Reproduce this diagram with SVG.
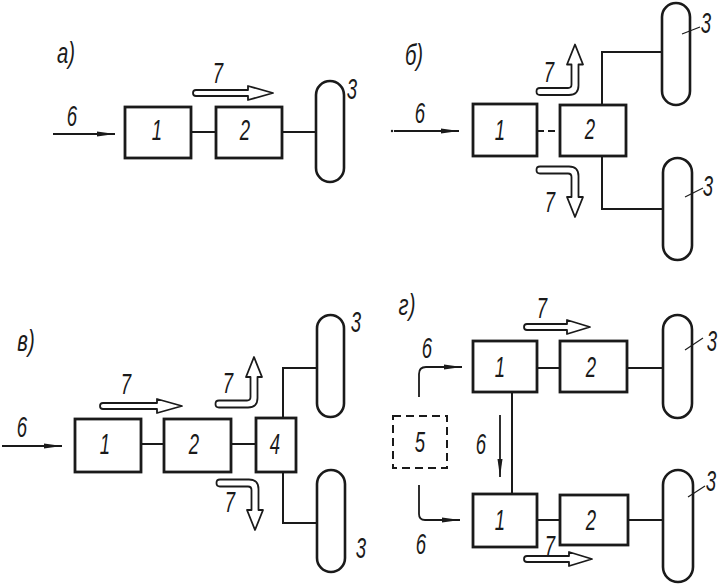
<svg xmlns="http://www.w3.org/2000/svg" width="721" height="584" viewBox="0 0 721 584">
<style>
.bx{fill:none;stroke:#1a1a1a;stroke-width:2.8}
.wh{fill:none;stroke:#1a1a1a;stroke-width:2.6}
.ln{fill:none;stroke:#1a1a1a;stroke-width:2}
.dash{fill:none;stroke:#1a1a1a;stroke-width:2;stroke-dasharray:7,4}
.dbox{fill:none;stroke:#1a1a1a;stroke-width:2;stroke-dasharray:8,5}
.ha{fill:#fff;stroke:#1a1a1a;stroke-width:1.8;stroke-linejoin:round}
.ld{fill:none;stroke:#1a1a1a;stroke-width:1.2}
.ar{fill:none;stroke:#1a1a1a;stroke-width:1.8;marker-end:url(#ah)}
text{font-family:"Liberation Sans",Arial,sans-serif;font-style:italic;font-size:29px;fill:#1a1a1a;text-anchor:middle}
</style>
<defs>
<marker id="ah" markerUnits="userSpaceOnUse" markerWidth="20" markerHeight="8" refX="18" refY="3" orient="auto">
<path d="M0,0.5 L18,3 L0,5.5 Z" fill="#1a1a1a"/>
</marker>
<path id="bent" class="ha" d="M2,-3.5 L30,-3.5 Q33.5,-3.5 33.5,-7 L33.5,-27 L29,-27 L37,-47 L45,-27 L40.5,-27 L40.5,-6 Q40.5,3.5 31,3.5 L2,3.5 Q-1.5,3.5 -1.5,0 Q-1.5,-3.5 2,-3.5 Z"/>
</defs>
<rect width="721" height="584" fill="#fff"/>

<g id="connectors">
<!-- panel a -->
<line class="ar" x1="53" y1="134" x2="115" y2="134"/>
<line class="ln" x1="191" y1="132" x2="216" y2="132"/>
<line class="ln" x1="282" y1="132" x2="316" y2="132"/>
<path class="ha" d="M196,90 L248,90 L248,86 L273,93 L248,100 L248,96 L196,96 Q193,96 193,93 Q193,90 196,90 Z"/>
<!-- panel b -->
<circle cx="392" cy="131" r="1.2" fill="#1a1a1a"/>
<line class="ar" x1="394" y1="131" x2="459" y2="131"/>
<line class="dash" x1="537" y1="131" x2="560" y2="131"/>
<polyline class="ln" points="602,105 602,52 662,52"/>
<polyline class="ln" points="602,156 602,209 663,209"/>
<use href="#bent" transform="translate(538,91.5)"/>
<use href="#bent" transform="translate(538,170) scale(1,-1)"/>
<line class="ld" x1="682" y1="34" x2="700" y2="27"/>
<line class="ld" x1="685" y1="197" x2="703" y2="188"/>
<!-- panel v -->
<line class="ar" x1="2" y1="446" x2="62" y2="446"/>
<line class="ln" x1="141" y1="444" x2="164" y2="444"/>
<line class="ln" x1="231" y1="444" x2="256" y2="444"/>
<polyline class="ln" points="283,418 283,368 317,368"/>
<polyline class="ln" points="283,472 283,523 317,523"/>
<path class="ha" d="M103,403 L157,403 L157,399 L182,406 L157,413 L157,409 L103,409 Q100,409 100,406 Q100,403 103,403 Z"/>
<use href="#bent" transform="translate(217,404)"/>
<use href="#bent" transform="translate(218,483) scale(1,-1)"/>
<!-- panel g -->
<path class="ar" d="M419,397 L419,374 Q419,367 426,367 L462,367"/>
<path class="ar" d="M419,485 L419,514 Q419,520 425,520 L460,520"/>
<line class="ar" x1="500" y1="415" x2="500" y2="477"/>
<line class="ln" x1="512" y1="392" x2="512" y2="494"/>
<line class="ln" x1="537" y1="368" x2="560" y2="368"/>
<line class="ln" x1="627" y1="368" x2="663" y2="368"/>
<line class="ln" x1="537" y1="520" x2="560" y2="520"/>
<line class="ln" x1="628" y1="520" x2="663" y2="520"/>
<path class="ha" d="M527,324 L567,324 L567,320 L590,327 L567,334 L567,330 L527,330 Q524,330 524,327 Q524,324 527,324 Z"/>
<path class="ha" d="M527,556 L569,556 L569,552 L592,559 L569,566 L569,562 L527,562 Q524,562 524,559 Q524,556 527,556 Z"/>
<line class="ld" x1="685" y1="350" x2="703" y2="338"/>
<line class="ld" x1="688" y1="497" x2="705" y2="486"/>
</g>

<!-- panel a nodes -->
<g id="a-label"><text transform="translate(66,63) scale(.7,1)">а)</text></g>
<g id="a-box1"><rect class="bx" x="125" y="107" width="66" height="51"/><text transform="translate(157,140) scale(.64,1)">1</text></g>
<g id="a-box2"><rect class="bx" x="216" y="107" width="66" height="51"/><text transform="translate(245,140) scale(.64,1)">2</text></g>
<g id="a-wheel"><rect class="wh" x="316" y="81" width="28" height="101" rx="14"/><text transform="translate(352,99) scale(.64,1)">3</text></g>
<g id="a-labels"><text transform="translate(72,126) scale(.64,1)">6</text><text transform="translate(218,83) scale(.64,1)">7</text></g>

<!-- panel b nodes -->
<g id="b-label"><text transform="translate(414,65) scale(.7,1)">б)</text></g>
<g id="b-box1"><rect class="bx" x="473" y="104" width="64" height="52"/><text transform="translate(500,140) scale(.64,1)">1</text></g>
<g id="b-box2"><rect class="bx" x="560" y="105" width="66" height="51"/><text transform="translate(590,139) scale(.64,1)">2</text></g>
<g id="b-wheel1"><rect class="wh" x="662" y="3" width="28" height="102" rx="14"/><text transform="translate(706,33) scale(.64,1)">3</text></g>
<g id="b-wheel2"><rect class="wh" x="663" y="158" width="29" height="102" rx="14.5"/><text transform="translate(708,196) scale(.64,1)">3</text></g>
<g id="b-labels"><text transform="translate(420,123) scale(.64,1)">6</text><text transform="translate(549,82) scale(.64,1)">7</text><text transform="translate(550,212) scale(.64,1)">7</text></g>

<!-- panel v nodes -->
<g id="v-label"><text transform="translate(26,351) scale(.7,1)">в)</text></g>
<g id="v-box1"><rect class="bx" x="75" y="419" width="66" height="53"/><text transform="translate(105,454) scale(.64,1)">1</text></g>
<g id="v-box2"><rect class="bx" x="164" y="419" width="67" height="53"/><text transform="translate(194,454) scale(.64,1)">2</text></g>
<g id="v-box4"><rect class="bx" x="256" y="418" width="40" height="54"/><text transform="translate(275,454) scale(.64,1)">4</text></g>
<g id="v-wheel1"><rect class="wh" x="317" y="315" width="27" height="102" rx="13.5"/><text transform="translate(356,332) scale(.64,1)">3</text></g>
<g id="v-wheel2"><rect class="wh" x="317" y="470" width="28" height="102" rx="14"/><text transform="translate(361,558) scale(.64,1)">3</text></g>
<g id="v-labels"><text transform="translate(22,437) scale(.64,1)">6</text><text transform="translate(126,394) scale(.64,1)">7</text><text transform="translate(228,393) scale(.64,1)">7</text><text transform="translate(230,512) scale(.64,1)">7</text></g>

<!-- panel g nodes -->
<g id="g-label"><text transform="translate(407,315) scale(.7,1)">г)</text></g>
<g id="g-box1a"><rect class="bx" x="473" y="341" width="64" height="51"/><text transform="translate(500,377) scale(.64,1)">1</text></g>
<g id="g-box2a"><rect class="bx" x="560" y="341" width="67" height="51"/><text transform="translate(591,377) scale(.64,1)">2</text></g>
<g id="g-wheel1"><rect class="wh" x="663" y="315" width="29" height="103" rx="14.5"/><text transform="translate(712,351) scale(.64,1)">3</text></g>
<g id="g-box5"><rect class="dbox" x="393" y="416" width="54" height="52"/><text transform="translate(420,452) scale(.64,1)">5</text></g>
<g id="g-box1b"><rect class="bx" x="473" y="494" width="64" height="53"/><text transform="translate(500,530) scale(.64,1)">1</text></g>
<g id="g-box2b"><rect class="bx" x="560" y="495" width="68" height="50"/><text transform="translate(591,530) scale(.64,1)">2</text></g>
<g id="g-wheel2"><rect class="wh" x="663" y="470" width="30" height="112" rx="15"/><text transform="translate(711,491) scale(.64,1)">3</text></g>
<g id="g-labels"><text transform="translate(427,358) scale(.64,1)">6</text><text transform="translate(542,318) scale(.64,1)">7</text><text transform="translate(481,454) scale(.64,1)">6</text><text transform="translate(421,554) scale(.64,1)">6</text><text transform="translate(550,556) scale(.64,1)">7</text></g>
</svg>
